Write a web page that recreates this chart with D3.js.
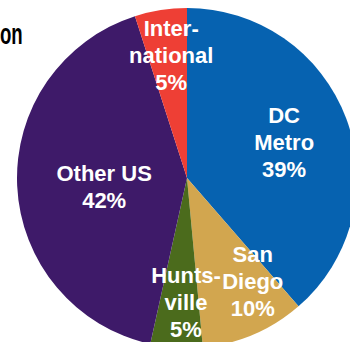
<!DOCTYPE html>
<html>
<head>
<meta charset="utf-8">
<script src="https://cdn.jsdelivr.net/npm/d3@7/dist/d3.min.js"></script>
<style>
  html, body { margin: 0; padding: 0; background: #ffffff; }
  svg { display: block; }
</style>
</head>
<body>
<div id="chart"></div>
<script>
// Share of staff by location (percent), clockwise from 12 o'clock
const regions = ["DC Metro", "San Diego", "Huntsville", "Other US", "International"];
const shares = [39, 10, 5, 42, 5];
const labelLines = [
  ["DC", "Metro"],
  ["San", "Diego"],
  ["Hunts-", "ville"],
  ["Other US"],
  ["Inter-", "national"]
];
const sliceColors = ["#0662b0", "#d2a64f", "#4b6b1c", "#3e1a69", "#ee3f35"];

// Label placement: fraction of radius and angular nudge (degrees) from slice middle
const labelPlacement = [
  [0.61, 0], [0.72, -9.3], [0.73, -3.1], [0.49, -3.3], [0.73, 1.6]
];

const width = 350, height = 342;
const cx = 187, cy = 178, radius = 170;
const lineHeight = 27;

const svg = d3.select("#chart").append("svg")
  .attr("width", width).attr("height", height);

// Tail of the heading at the top-left corner
svg.append("text")
  .attr("transform", "translate(0,44) scale(0.62,1)")
  .attr("font-family", "Liberation Sans, Arial, sans-serif")
  .attr("font-weight", "bold")
  .attr("font-size", 30)
  .attr("fill", "#000")
  .text("on");

const data = regions.map((r, i) => ({ region: r, value: shares[i], i }));

const pie = d3.pie().value(d => d.value).sort(null);
const arc = d3.arc().innerRadius(0).outerRadius(radius);
const color = d3.scaleOrdinal().domain(regions).range(sliceColors);

const g = svg.append("g").attr("transform", `translate(${cx},${cy})`);
const arcs = pie(data);

g.selectAll("path.slice")
  .data(arcs)
  .join("path")
  .attr("class", "slice")
  .attr("d", arc)
  .attr("fill", d => color(d.data.region));

g.selectAll("text.label")
  .data(arcs)
  .join("text")
  .attr("class", "label")
  .attr("text-anchor", "middle")
  .attr("font-family", "Liberation Sans, Arial, sans-serif")
  .attr("font-weight", "bold")
  .attr("font-size", 22)
  .attr("fill", "#ffffff")
  .each(function (d) {
    const [frac, nudge] = labelPlacement[d.data.i];
    const a = (d.startAngle + d.endAngle) / 2 + nudge * Math.PI / 180;
    const x = Math.sin(a) * radius * frac;
    const y = -Math.cos(a) * radius * frac;
    const lines = labelLines[d.data.i].concat([d.data.value + "%"]);
    const first = y + 8 - (lines.length - 1) * lineHeight / 2;
    const t = d3.select(this);
    lines.forEach((ln, k) => {
      t.append("tspan")
        .attr("x", x)
        .attr("y", first + k * lineHeight)
        .text(ln);
    });
  });
</script>
</body>
</html>
